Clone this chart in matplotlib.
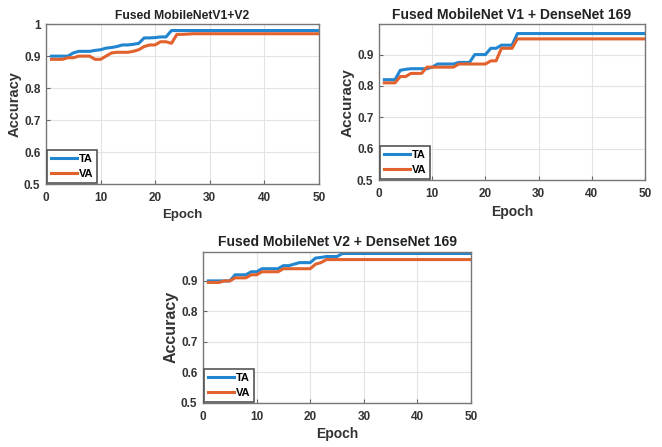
import numpy as np
import matplotlib.pyplot as plt

plt.rcParams['font.family'] = ['Liberation Sans', 'DejaVu Sans']
plt.rcParams['font.weight'] = 'bold'

epochs = np.arange(1, 51)

titles = ["Fused MobileNetV1+V2",
          "Fused MobileNet V1 + DenseNet 169",
          "Fused MobileNet V2 + DenseNet 169"]

ta1 = [0.90, 0.90, 0.90, 0.90, 0.91, 0.915, 0.915, 0.915, 0.918, 0.92,
       0.925, 0.927, 0.93, 0.935, 0.935, 0.937, 0.94, 0.957, 0.957, 0.958,
       0.96, 0.96, 0.98, 0.98, 0.98, 0.98, 0.98, 0.98, 0.98, 0.98,
       0.98, 0.98, 0.98, 0.98, 0.98, 0.98, 0.98, 0.98, 0.98, 0.98,
       0.98, 0.98, 0.98, 0.98, 0.98, 0.98, 0.98, 0.98, 0.98, 0.98]
va1 = [0.89, 0.89, 0.89, 0.895, 0.895, 0.90, 0.90, 0.90, 0.89, 0.89,
       0.90, 0.91, 0.912, 0.912, 0.912, 0.915, 0.92, 0.93, 0.935, 0.935,
       0.945, 0.945, 0.94, 0.968, 0.968, 0.969, 0.97, 0.97, 0.97, 0.97,
       0.97, 0.97, 0.97, 0.97, 0.97, 0.97, 0.97, 0.97, 0.97, 0.97,
       0.97, 0.97, 0.97, 0.97, 0.97, 0.97, 0.97, 0.97, 0.97, 0.97]

ta2 = [0.82, 0.82, 0.82, 0.85, 0.853, 0.855, 0.855, 0.855, 0.855, 0.86,
       0.87, 0.87, 0.87, 0.87, 0.875, 0.875, 0.875, 0.90, 0.90, 0.90,
       0.92, 0.92, 0.93, 0.93, 0.93, 0.967, 0.967, 0.967, 0.967, 0.967,
       0.967, 0.967, 0.967, 0.967, 0.967, 0.967, 0.967, 0.967, 0.967, 0.967,
       0.967, 0.967, 0.967, 0.967, 0.967, 0.967, 0.967, 0.967, 0.967, 0.967]
va2 = [0.81, 0.81, 0.81, 0.83, 0.83, 0.84, 0.84, 0.84, 0.86, 0.86,
       0.86, 0.86, 0.86, 0.86, 0.87, 0.87, 0.87, 0.87, 0.87, 0.87,
       0.88, 0.88, 0.92, 0.92, 0.92, 0.95, 0.95, 0.95, 0.95, 0.95,
       0.95, 0.95, 0.95, 0.95, 0.95, 0.95, 0.95, 0.95, 0.95, 0.95,
       0.95, 0.95, 0.95, 0.95, 0.95, 0.95, 0.95, 0.95, 0.95, 0.95]

ta3 = [0.90, 0.90, 0.90, 0.90, 0.90, 0.92, 0.92, 0.92, 0.93, 0.93,
       0.94, 0.94, 0.94, 0.94, 0.95, 0.95, 0.955, 0.96, 0.96, 0.96,
       0.975, 0.977, 0.98, 0.98, 0.98, 0.99, 0.99, 0.99, 0.99, 0.99,
       0.99, 0.99, 0.99, 0.99, 0.99, 0.99, 0.99, 0.99, 0.99, 0.99,
       0.99, 0.99, 0.99, 0.99, 0.99, 0.99, 0.99, 0.99, 0.99, 0.99]
va3 = [0.895, 0.895, 0.895, 0.90, 0.90, 0.91, 0.91, 0.91, 0.92, 0.92,
       0.93, 0.93, 0.93, 0.93, 0.94, 0.94, 0.94, 0.94, 0.94, 0.94,
       0.955, 0.96, 0.97, 0.97, 0.97, 0.97, 0.97, 0.97, 0.97, 0.97,
       0.97, 0.97, 0.97, 0.97, 0.97, 0.97, 0.97, 0.97, 0.97, 0.97,
       0.97, 0.97, 0.97, 0.97, 0.97, 0.97, 0.97, 0.97, 0.97, 0.97]

series = [(ta1, va1), (ta2, va2), (ta3, va3)]
ytops = [1.0, 0.997, 0.996]
title_sizes = [8.7, 10, 10]
ylabel_sizes = [10.5, 11, 11.5]
xlabel_sizes = [9.5, 10, 10]

fig = plt.figure(figsize=(6.62, 4.47), dpi=100)
positions = [[0.0695, 0.588, 0.412, 0.358],
             [0.5725, 0.597, 0.402, 0.349],
             [0.3066, 0.099, 0.405, 0.338]]

for i in range(3):
    ax = fig.add_axes(positions[i])
    ta, va = series[i]
    ax.plot(epochs, ta, color="#2185d0", lw=2.2, label="TA")
    ax.plot(epochs, va, color="#e2622e", lw=2.2, label="VA")
    ax.set_xlim(0, 50)
    ax.set_ylim(0.5, ytops[i])
    ax.set_xticks([0, 10, 20, 30, 40, 50])
    if ytops[i] >= 1.0:
        ax.set_yticks([0.5, 0.6, 0.7, 0.8, 0.9, 1.0])
        ax.set_yticklabels(["0.5", "0.6", "0.7", "0.8", "0.9", "1"])
    else:
        ax.set_yticks([0.5, 0.6, 0.7, 0.8, 0.9])
        ax.set_yticklabels(["0.5", "0.6", "0.7", "0.8", "0.9"])
    ax.grid(True, color="#e3e3e3", lw=0.8)
    ax.tick_params(labelsize=8.5, direction="in", length=3, color="#666666",
                   labelcolor="#333333")
    ax.tick_params(axis="x", pad=6)
    ax.tick_params(axis="y", pad=4)
    for s in ax.spines.values():
        s.set_color("#777777")
        s.set_linewidth(1.0)
    ax.set_title(titles[i], fontsize=title_sizes[i], fontweight="bold",
                 pad=4, color="#222222")
    ax.set_xlabel("Epoch", fontsize=xlabel_sizes[i], fontweight="bold",
                  labelpad=3, color="#333333")
    ax.set_ylabel("Accuracy", fontsize=ylabel_sizes[i], fontweight="bold",
                  labelpad=2, color="#333333")
    leg = ax.legend(loc="lower left", prop={'weight': 'bold', 'size': 8},
                    handlelength=2.3, borderaxespad=0.1, fancybox=False,
                    framealpha=1, borderpad=0.35, labelspacing=0.45,
                    handletextpad=0.2)
    leg.get_frame().set_edgecolor("#555555")
    leg.get_frame().set_linewidth(1.2)

fig.savefig("out.png", dpi=100)
